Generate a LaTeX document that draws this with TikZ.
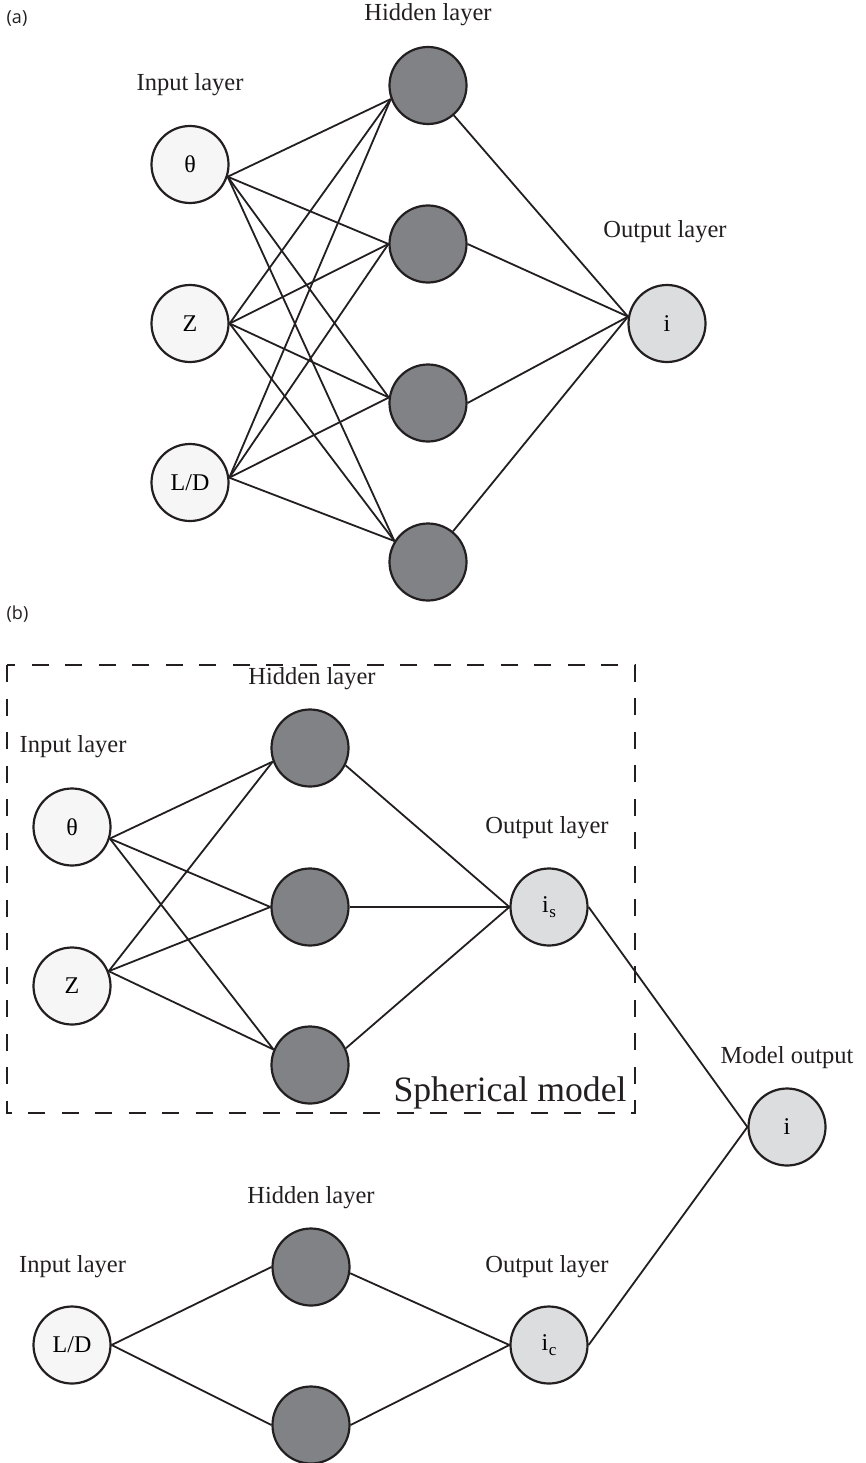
\documentclass[tikz,border=0pt]{standalone}
\usepackage{fontspec}
\setmainfont{Liberation Serif}
\newfontfamily\panelfont{Open Sans}
\definecolor{ink}{HTML}{231F20}
\definecolor{infill}{HTML}{F6F6F6}
\definecolor{hidfill}{HTML}{808285}
\definecolor{outfill}{HTML}{DCDDDF}
\tikzset{
  neuron/.style={circle, draw=ink, line width=2.2pt, minimum size=77pt, inner sep=0pt,
    font=\fontsize{24}{26}\selectfont},
  innode/.style={neuron, fill=infill},
  hidnode/.style={neuron, fill=hidfill},
  outnode/.style={neuron, fill=outfill},
  lbl/.style={font=\fontsize{24.5}{28}\selectfont, text=ink, inner sep=0pt},
  bigl/.style={font=\fontsize{35.7}{40}\selectfont, text=ink, inner sep=0pt},
  panel/.style={font=\panelfont\fontsize{18}{20}\selectfont, text=ink, inner sep=0pt},
  wire/.style={draw=ink, line width=1.8pt},
  dashbox/.style={draw=ink, line width=2pt, dash pattern=on 17pt off 16.5pt}
}
\newcommand{\sub}[1]{i\kern0.5pt\raisebox{-5pt}{\fontsize{17}{17}\selectfont #1}}
\begin{document}
\begin{tikzpicture}[x=1pt,y=-1pt]
\useasboundingbox (0,0) rectangle (866,1463);
% ---------- (a) ----------
\node[panel] (pa) at (17,18.5) {(a)};
\node[lbl] (la1) at (190,85) {Input layer};
\node[lbl] (la2) at (428,15) {Hidden layer};
\node[lbl] (la3) at (665,232) {Output layer};
\node[innode] (at) at (190,164.5) {θ};
\node[innode] (az) at (190,323.5) {Z};
\node[innode] (al) at (190,482.5) {L/D};
\node[hidnode] (ah1) at (428,85.5) {};
\node[hidnode] (ah2) at (428,244) {};
\node[hidnode] (ah3) at (428,403) {};
\node[hidnode] (ah4) at (428,562) {};
\node[outnode] (ai) at (667,323.5) {i};
\foreach \s/\a in {at/-18, az/0, al/7}{
  \draw[wire] (\s.\a) -- (ah1.-160);
  \draw[wire] (\s.\a) -- (ah2.180);
  \draw[wire] (\s.\a) -- (ah3.172);
  \draw[wire] (\s.\a) -- (ah4.148);
}
\draw[wire] (ah1) -- (ai.170);
\draw[wire] (ah2.east) -- (ai.170);
\draw[wire] (ah3.east) -- (ai.170);
\draw[wire] (ah4) -- (ai.170);
% ---------- (b) ----------
\node[panel] (pb) at (17.5,614) {(b)};
\draw[dashbox] (7,665) rectangle (635,1113);
\node[lbl] (lb1) at (73,747) {Input layer};
\node[lbl] (lb2) at (312,679) {Hidden layer};
\node[lbl] (lb3) at (547,828) {Output layer};
\node[bigl] (sph) at (510,1093) {Spherical model};
\node[innode] (bt) at (72,827) {θ};
\node[innode] (bz) at (72,986) {Z};
\node[hidnode] (bh1) at (310,748) {};
\node[hidnode] (bh2) at (310,907) {};
\node[hidnode] (bh3) at (310,1065) {};
\node[outnode] (bis) at (549,907) {\sub{s}};
\foreach \s/\a in {bt/-17.5, bz/22}{
  \draw[wire] (\s.\a) -- (bh1.-160);
  \draw[wire] (\s.\a) -- (bh2.180);
  \draw[wire] (\s.\a) -- (bh3.157);
}
\draw[wire] (bh1.-26) -- (bis.180);
\draw[wire] (bh2.0) -- (bis.180);
\draw[wire] (bh3.25) -- (bis.180);
% model output
\node[lbl] (lmo) at (787,1058) {Model output};
\node[outnode] (mo) at (787,1127) {i};
% lower network
\node[lbl] (lc1) at (72.5,1267) {Input layer};
\node[lbl] (lc2) at (311,1198) {Hidden layer};
\node[lbl] (lc3) at (547,1267) {Output layer};
\node[innode] (cl) at (72,1345) {L/D};
\node[hidnode] (ch1) at (311,1267) {};
\node[hidnode] (ch2) at (311,1425) {};
\node[outnode] (cic) at (549,1345) {\sub{c}};
\draw[wire] (cl.0) -- (ch1.180);
\draw[wire] (cl.0) -- (ch2.180);
\draw[wire] (ch1.-9) -- (cic.180);
\draw[wire] (ch2.0) -- (cic.180);
\draw[wire] (bis.0) -- (mo.180);
\draw[wire] (cic.0) -- (mo.180);
\end{tikzpicture}
\end{document}
